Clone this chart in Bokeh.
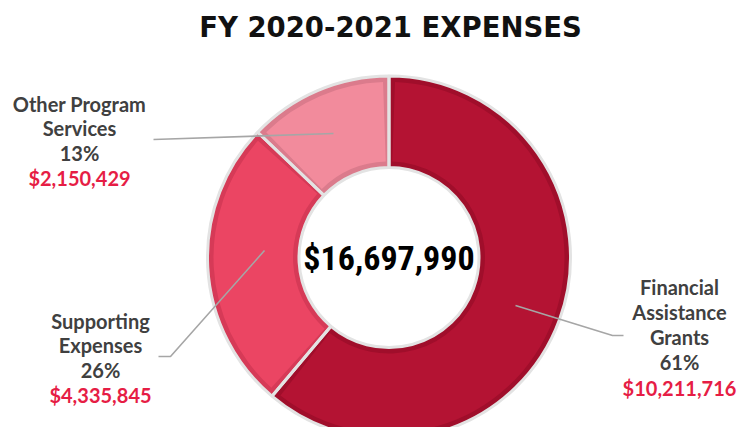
import numpy as np
from bokeh.plotting import figure
from bokeh.models import Range1d, ColumnDataSource
from bokeh.core.properties import value
from bokeh.embed import file_html
from bokeh.resources import INLINE

# ---- data ----
categories = ["Financial Assistance Grants", "Supporting Expenses", "Other Program Services"]
label_lines = [["Financial", "Assistance", "Grants"], ["Supporting", "Expenses"], ["Other Program", "Services"]]
amounts = [10211716, 4335845, 2150429]
percent_labels = ["61%", "26%", "13%"]
amount_labels = ["$10,211,716", "$4,335,845", "$2,150,429"]
total_label = "$16,697,990"
title_text = "FY 2020-2021 EXPENSES"

main_colors = ["#b41333", "#eb4563", "#f28b9c"]
edge_colors = ["#a00e2b", "#d63a57", "#db7b8c"]

W, H = 738, 427
PY = lambda y: 435 - y  # page y -> data y

p = figure(width=W, height=H, output_backend="svg", toolbar_location=None,
           x_range=Range1d(0, W), y_range=Range1d(435 - H, 435),
           min_border=0, outline_line_color=None)
p.axis.visible = False
p.grid.visible = False
p.background_fill_color = "white"
p.border_fill_color = "white"

cx, cy = 388.5, PY(257)
R_out, R_in = 181.5, 90

vals = np.array(amounts, dtype=float)
frac = vals / vals.sum()
ends = np.pi / 2 - 2 * np.pi * np.cumsum(frac)
starts = np.concatenate([[np.pi / 2], ends[:-1]])

src = ColumnDataSource(dict(x=[cx] * 3, y=[cy] * 3, start=list(starts), end=list(ends),
                            main=main_colors, edge=edge_colors))
d = 0.034
src_in = ColumnDataSource(dict(x=[cx] * 3, y=[cy] * 3, start=list(starts - d), end=list(ends + d),
                               main=main_colors))

p.annular_wedge(x="x", y="y", inner_radius=R_in, outer_radius=R_out, start_angle="start",
                end_angle="end", direction="clock", fill_color="edge", line_color=None, source=src)
p.annular_wedge(x="x", y="y", inner_radius=R_in + 6, outer_radius=R_out - 6, start_angle="start",
                end_angle="end", direction="clock", fill_color="main", line_color=None, source=src_in)
p.annular_wedge(x="x", y="y", inner_radius=R_in, outer_radius=R_out, start_angle="start",
                end_angle="end", direction="clock", fill_color=None, line_color="#e3e3e3",
                line_width=3, source=src)

# leader lines
lc = "#a6a6a6"
p.line([515, 612, 623], [PY(305), PY(335), PY(335)], line_color=lc, line_width=1.6)
p.line([264, 170, 158], [PY(250), PY(356), PY(356)], line_color=lc, line_width=1.6)
p.line([333, 153], [PY(133), PY(139)], line_color=lc, line_width=1.6)

# labels
label_x = [679, 100, 79]
label_y0 = [286, 320, 103]
spacing = [25.3, 24.8, 24.8]
gx, gy, gt, rx, ry, rt = [], [], [], [], [], []
for i in range(3):
    lines = label_lines[i] + [percent_labels[i]]
    for j, t in enumerate(lines):
        gx.append(label_x[i]); gy.append(PY(label_y0[i] + j * spacing[i])); gt.append(t)
    rx.append(label_x[i]); ry.append(PY(label_y0[i] + len(lines) * spacing[i])); rt.append(amount_labels[i])

p.text(x=gx, y=gy, text=gt, text_font=value("Lato"), text_font_style="bold",
       text_font_size="20px", text_color="#404040", text_align="center", text_baseline="middle")
p.text(x=rx, y=ry, text=rt, text_font=value("Lato"), text_font_style="bold",
       text_font_size="20px", text_color="#e61d45", text_align="center", text_baseline="middle")

# center total
p.text(x=[cx], y=[cy], text=[total_label],
       text_font=value("'Roboto Condensed', 'Open Sans Condensed', 'DejaVu Sans Condensed', sans-serif"),
       text_font_style="bold", text_font_size="34px", text_color="#000000",
       text_align="center", text_baseline="middle")

# title
p.text(x=[390], y=[PY(26)], text=[title_text], text_font=value("DejaVu Sans"), text_font_style="bold",
       text_font_size="27.5px", text_color="#111111", text_align="center", text_baseline="middle")

open("out.html", "w").write(file_html(p, INLINE))
